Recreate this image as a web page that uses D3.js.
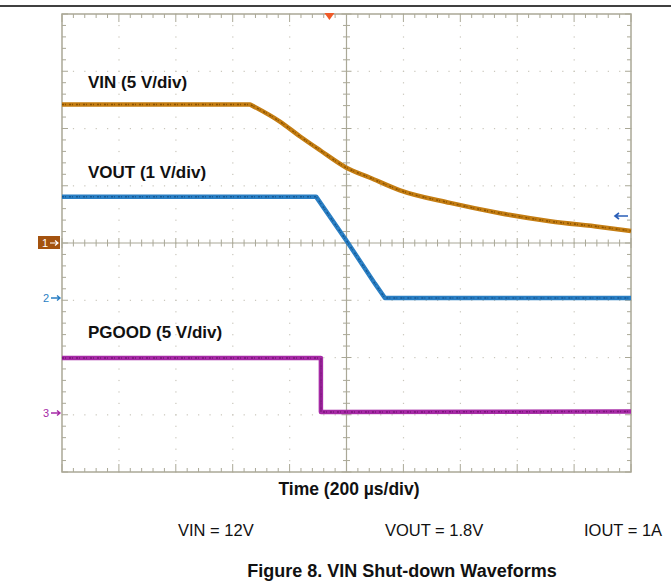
<!DOCTYPE html>
<html><head><meta charset="utf-8">
<script src="https://cdn.jsdelivr.net/npm/d3@7"></script>
<style>body{margin:0;background:#fff}svg{display:block}</style>
</head><body>
<script>
// ---- data ----
const timeDomain = [0, 2000];            // µs, 200 µs/div, 10 div
const divDomain = [-4, 4];               // vertical divisions
const channelNames = ["1", "2", "3"];
const channelOffsetDiv = [0, -0.96, -2.97];
const channelVoltsPerDiv = [5, 1, 5];

const vinTime  = [0, 661, 766, 837, 907, 998, 1083, 1188, 1364, 1540, 1715, 1891, 2000];
const vinVolts = [12.1, 12.1, 10.6, 9.3, 8.1, 6.6, 5.7, 4.6, 3.5, 2.6, 1.9, 1.4, 1.05];
const voutTime  = [0, 893, 1000, 1100, 1135, 2000];
const voutVolts = [1.77, 1.77, 1.0, 0.25, 0.0, 0.0];
const pgoodTime  = [0, 910, 910, 2000];
const pgoodVolts = [4.8, 4.8, 0.08, 0.14];

const traceLabels = ["VIN (5 V/div)", "VOUT (1 V/div)", "PGOOD (5 V/div)"];
const traceLabelDiv = [2.71, 1.14, -1.66];
const xAxisTitle = "Time (200 µs/div)";
const conditions = ["VIN = 12V", "VOUT = 1.8V", "IOUT = 1A"];
const caption = "Figure 8. VIN Shut-down Waveforms";
const triggerTime = 940;

// ---- drawing ----
const W = 671, H = 582;
const svg = d3.select("body").append("svg").attr("width", W).attr("height", H)
  .style("font-family", "Arial, 'Liberation Sans', sans-serif");

const x = d3.scaleLinear().domain(timeDomain).range([62, 631]);
const y = d3.scaleLinear().domain(divDomain).range([472, 14]);
const frameCol = "#aaa897";

svg.append("line").attr("x1", 0).attr("x2", W).attr("y1", 6).attr("y2", 6)
  .attr("stroke", "#000").attr("stroke-width", 1.6);

const g = svg.append("g");
const majorT = d3.range(0, 2001, 200);
const minorT = d3.range(0, 2001, 40);
const majorD = d3.range(-4, 4.01, 1);
const minorD = d3.range(-4, 4.01, 0.2);

// dotted grid
majorT.slice(1, -1).forEach(t => {
  if (t === 1000) return;
  minorD.forEach(d => g.append("rect").attr("x", x(t) - 0.5).attr("y", y(d) - 0.5)
    .attr("width", 1.2).attr("height", 1.2).attr("fill", "#c9c6bb"));
});
majorD.slice(1, -1).forEach(d => {
  if (d === 0) return;
  minorT.forEach(t => g.append("rect").attr("x", x(t) - 0.5).attr("y", y(d) - 0.5)
    .attr("width", 1.2).attr("height", 1.2).attr("fill", "#c9c6bb"));
});

// center cross with ticks
g.append("line").attr("x1", x(0)).attr("x2", x(2000)).attr("y1", y(0)).attr("y2", y(0))
  .attr("stroke", frameCol).attr("stroke-width", 1.2);
g.append("line").attr("x1", x(1000)).attr("x2", x(1000)).attr("y1", y(-4)).attr("y2", y(4))
  .attr("stroke", frameCol).attr("stroke-width", 1.2);
minorT.forEach(t => {
  const L = (t % 200 === 0) ? 5 : 3.5;
  g.append("line").attr("x1", x(t)).attr("x2", x(t)).attr("y1", y(0) - L).attr("y2", y(0) + L)
    .attr("stroke", frameCol).attr("stroke-width", 1);
  const Le = (t % 200 === 0) ? 8 : 4;
  g.append("line").attr("x1", x(t)).attr("x2", x(t)).attr("y1", y(4)).attr("y2", y(4) + Le)
    .attr("stroke", frameCol).attr("stroke-width", 1);
  g.append("line").attr("x1", x(t)).attr("x2", x(t)).attr("y1", y(-4)).attr("y2", y(-4) - Le)
    .attr("stroke", frameCol).attr("stroke-width", 1);
});
minorD.forEach(d => {
  const L = (Math.abs(d - Math.round(d)) < 1e-6) ? 5 : 3.5;
  g.append("line").attr("x1", x(1000) - L).attr("x2", x(1000) + L).attr("y1", y(d)).attr("y2", y(d))
    .attr("stroke", frameCol).attr("stroke-width", 1);
  const Le = (Math.abs(d - Math.round(d)) < 1e-6) ? 6 : 4;
  g.append("line").attr("x1", x(0)).attr("x2", x(0) + Le).attr("y1", y(d)).attr("y2", y(d))
    .attr("stroke", frameCol).attr("stroke-width", 1);
  g.append("line").attr("x1", x(2000)).attr("x2", x(2000) - Le).attr("y1", y(d)).attr("y2", y(d))
    .attr("stroke", frameCol).attr("stroke-width", 1);
});
g.append("rect").attr("x", x(0)).attr("y", y(4)).attr("width", x(2000) - x(0)).attr("height", y(-4) - y(4))
  .attr("fill", "none").attr("stroke", frameCol).attr("stroke-width", 1.5);

// traces
const line = (ch, curve) => d3.line().curve(curve)
  .x(d => x(d[0])).y(d => y(channelOffsetDiv[ch] + d[1] / channelVoltsPerDiv[ch]));
function drawPath(d, col, dark) {
  svg.append("path").attr("d", d).attr("fill", "none")
    .attr("stroke", col).attr("stroke-width", 4.5).attr("stroke-linejoin", "round");
  svg.append("path").attr("d", d).attr("fill", "none")
    .attr("stroke", dark).attr("stroke-width", 1.5).attr("stroke-dasharray", "2 1 1 3")
    .attr("stroke-linejoin", "round");
}
function pts(ts, vs) { return ts.map((t, i) => [t, vs[i]]); }
// VIN: flat part straight, decay part smooth (sharp knee)
const vinPts = pts(vinTime, vinVolts);
const vinD = line(0, d3.curveLinear)(vinPts.slice(0, 2)) +
  line(0, d3.curveMonotoneX)(vinPts.slice(1)).replace(/^M/, "L");
drawPath(vinD, "#c47d12", "#8a5200");
drawPath(line(1, d3.curveLinear)(pts(voutTime, voutVolts)), "#2a7fc4", "#165a96");
drawPath(line(2, d3.curveLinear)(pts(pgoodTime, pgoodVolts)), "#a62aa6", "#7a157a");
svg.append("path").attr("d", line(2, d3.curveLinear)([[pgoodTime[1], pgoodVolts[1]], [pgoodTime[2], pgoodVolts[2]]]))
  .attr("stroke", "#8a1e8a").attr("stroke-width", 1.5).attr("fill", "none");

// labels
traceLabels.forEach((t, i) => svg.append("text").attr("x", 88).attr("y", y(traceLabelDiv[i]))
  .attr("font-size", 17).attr("font-weight", "bold").attr("fill", "#111").text(t));

// channel markers
const chCols = ["#a4530f", "#2a7fc4", "#a62aa6"];
channelNames.forEach((n, i) => {
  const yy = y(channelOffsetDiv[i]);
  if (i === 0) {
    svg.append("rect").attr("x", 38).attr("y", yy - 7).attr("width", 22).attr("height", 13).attr("fill", chCols[0]);
    svg.append("text").attr("x", 42).attr("y", yy + 4).attr("font-size", 11).attr("fill", "#fff").text(n);
    svg.append("path").attr("d", `M50,${yy} L58,${yy} M55,${yy - 2.5} L58,${yy} L55,${yy + 2.5}`)
      .attr("stroke", "#fff").attr("stroke-width", 1.2).attr("fill", "none");
  } else {
    svg.append("text").attr("x", 43).attr("y", yy + 4).attr("font-size", 11).attr("fill", chCols[i]).text(n);
    svg.append("path").attr("d", `M51,${yy} L60,${yy} M57,${yy - 2.5} L60,${yy} L57,${yy + 2.5}`)
      .attr("stroke", chCols[i]).attr("stroke-width", 1.4).attr("fill", "none");
  }
});
// off-screen arrow at right
const ay = 216;
svg.append("path").attr("d", `M628,${ay} L615,${ay} M619,${ay - 3} L615,${ay} L619,${ay + 3}`)
  .attr("stroke", "#2a5fb8").attr("stroke-width", 1.6).attr("fill", "none");

// trigger marker
const tx = x(triggerTime);
svg.append("path").attr("d", `M${tx - 5},${y(4) - 1} L${tx + 5},${y(4) - 1} L${tx},${y(4) + 6} Z`).attr("fill", "#f05a28");

// axis title & captions
svg.append("text").attr("x", 349).attr("y", 495).attr("text-anchor", "middle")
  .attr("font-size", 17.5).attr("font-weight", "bold").attr("fill", "#111").text(xAxisTitle);
const condX = [178, 385, 584];
conditions.forEach((c, i) => svg.append("text").attr("x", condX[i]).attr("y", 536)
  .attr("font-size", 16.5).attr("fill", "#111").text(c));
svg.append("text").attr("x", 402).attr("y", 577).attr("text-anchor", "middle")
  .attr("font-size", 18).attr("font-weight", "bold").attr("fill", "#111").text(caption);
</script>
</body></html>
